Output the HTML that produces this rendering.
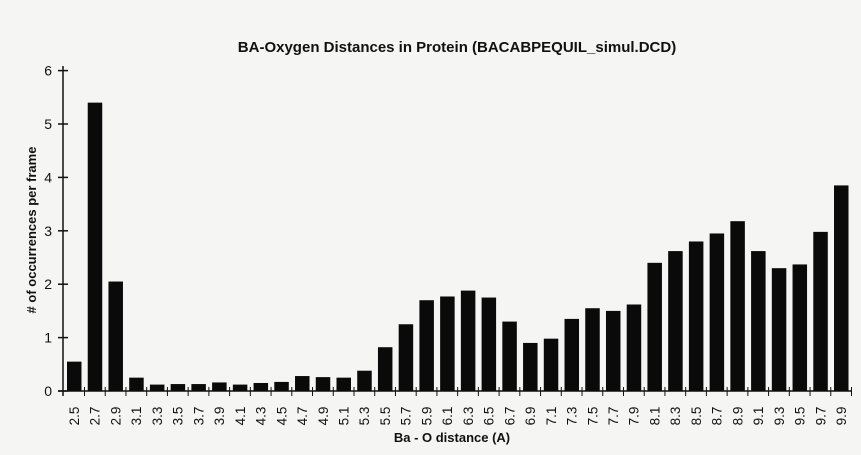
<!DOCTYPE html><html><head><style>body{margin:0;background:#f5f5f3}svg{display:block}text{font-family:"Liberation Sans",Arial,sans-serif;fill:#111}</style></head><body>
<svg width="861" height="455" xmlns="http://www.w3.org/2000/svg">
<rect width="861" height="455" fill="#f5f5f3"/>
<text x="457" y="52" font-size="15" font-weight="bold" text-anchor="middle">BA-Oxygen Distances in Protein (BACABPEQUIL_simul.DCD)</text>
<text transform="translate(36,230) rotate(-90)" font-size="13" font-weight="bold" text-anchor="middle"># of occurrences per frame</text>
<text x="452" y="442" font-size="13" font-weight="bold" text-anchor="middle">Ba - O distance (A)</text>
<g id="g"></g>
</svg>
<script>
var v=[0.55,5.4,2.05,0.25,0.12,0.13,0.13,0.16,0.12,0.15,0.17,0.28,0.26,0.25,0.38,0.82,1.25,1.7,1.77,1.88,1.75,1.3,0.9,0.98,1.35,1.55,1.5,1.62,2.4,2.62,2.8,2.95,3.18,2.62,2.3,2.37,2.98,3.85];
var s='',y0=391,u=53.4,sp=20.73;
s+='<line x1="63" y1="66" x2="63" y2="396" stroke="#111" stroke-width="1.5"/><line x1="58" y1="391" x2="852" y2="391" stroke="#111" stroke-width="1.5"/>';
for(var i=0;i<=6;i++){var y=y0-i*u;s+='<line x1="58" y1="'+y+'" x2="68" y2="'+y+'" stroke="#111" stroke-width="1.5"/><text x="52" y="'+(y+5)+'" font-size="14" text-anchor="end">'+i+'</text>';}
for(var i=0;i<v.length;i++){var x=67+i*sp,h=v[i]*u;s+='<rect x="'+x+'" y="'+(y0-h)+'" width="14.5" height="'+h+'" fill="#0a0a0a"/>';
var tx=x+14.5+3;s+='<line x1="'+tx+'" y1="387" x2="'+tx+'" y2="396" stroke="#111" stroke-width="1"/>';
var lab=(2.5+i*0.2).toFixed(1);s+='<text transform="translate('+(x+12)+',416) rotate(-90)" font-size="13.5" text-anchor="middle">'+lab+'</text>';}
document.getElementById('g').innerHTML=s;
</script></body></html>
